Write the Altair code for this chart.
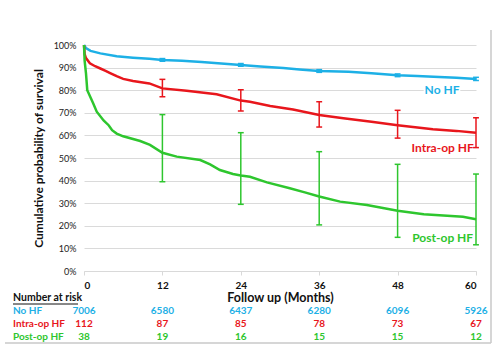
import altair as alt
import pandas as pd

# ---- Kaplan-Meier curves (month, survival %) ----
months_nohf = [0, 0.3, 1, 2.5, 5, 7.5, 10, 12, 15, 18, 21, 24, 27, 30.5, 33, 36, 40.5, 44, 48, 51, 53.5, 57, 60]
surv_nohf = [100, 98.6, 97.4, 96.3, 95.0, 94.4, 93.9, 93.4, 93.0, 92.5, 91.8, 91.2, 90.5, 89.8, 89.2, 88.5, 88.2, 87.5, 86.6, 86.3, 86.0, 85.5, 85.0]

months_intra = [0, 0.1, 0.3, 0.9, 1.7, 2.5, 3.3, 4, 5, 6, 7.5, 10, 12, 15.7, 20.3, 24, 25.4, 28.5, 32, 36, 39.7, 44, 48, 53.4, 57, 60]
surv_intra = [100, 96.0, 94.2, 91.9, 90.6, 89.6, 88.6, 87.6, 86.2, 85.0, 84.1, 83.0, 80.8, 79.8, 78.2, 75.4, 74.9, 73.0, 71.5, 69.0, 67.6, 66.0, 64.5, 62.7, 62.0, 61.2]

months_post = [0, 0.1, 0.3, 0.5, 1.4, 1.95, 3, 3.8, 4.3, 5, 6, 8.6, 10.1, 12, 14.2, 17.8, 19.3, 20.8, 22.8, 24, 25.4, 28, 31.5, 33.8, 36, 39.2, 43.3, 48, 52, 58, 60]
surv_post = [100, 93.0, 87.6, 80.0, 74.2, 70.5, 66.6, 64.4, 62.3, 60.8, 59.6, 57.5, 55.8, 52.3, 50.6, 49.1, 47.2, 44.7, 42.9, 42.3, 41.7, 39.2, 36.6, 34.8, 33.0, 30.7, 29.2, 26.7, 25.1, 24.0, 22.9]

# ---- confidence intervals at yearly points ----
eb_months = [12, 24, 36, 48, 60]
lo_nohf = [92.8, 90.6, 87.9, 86.0, 84.3]
hi_nohf = [94.0, 91.8, 89.1, 87.2, 85.7]
lo_intra = [77.1, 70.8, 63.7, 58.8, 54.6]
hi_intra = [84.8, 80.2, 74.9, 71.1, 67.8]
lo_post = [39.5, 29.5, 20.4, 14.9, 11.6]
hi_post = [69.2, 61.2, 52.8, 47.2, 42.9]

# ---- number at risk ----
risk_months = [0, 12, 24, 36, 48, 60]
risk_nohf = [7006, 6580, 6437, 6280, 6096, 5926]
risk_intra = [112, 87, 85, 78, 73, 67]
risk_post = [38, 19, 16, 15, 15, 12]

groups = ["No HF", "Intra-op HF", "Post-op HF"]
colors = ["#1DB0E6", "#E8161C", "#2EC62E"]
FONT = "Lato"

curves = pd.concat([
    pd.DataFrame({"month": months_nohf, "surv": surv_nohf, "group": "No HF"}),
    pd.DataFrame({"month": months_intra, "surv": surv_intra, "group": "Intra-op HF"}),
    pd.DataFrame({"month": months_post, "surv": surv_post, "group": "Post-op HF"}),
])
errs = pd.concat([
    pd.DataFrame({"month": eb_months, "lo": lo_nohf, "hi": hi_nohf, "group": "No HF"}),
    pd.DataFrame({"month": eb_months, "lo": lo_intra, "hi": hi_intra, "group": "Intra-op HF"}),
    pd.DataFrame({"month": eb_months, "lo": lo_post, "hi": hi_post, "group": "Post-op HF"}),
])

color = alt.Color("group:N", scale=alt.Scale(domain=groups, range=colors), legend=None)
xscale = alt.Scale(domain=[0, 60], nice=False)
yscale = alt.Scale(domain=[0, 100], nice=False)

x_axis = alt.Axis(values=[0, 12, 24, 36, 48, 60], grid=False, labelFontWeight="bold",
                  labelFontSize=10, labelColor="#111", domainColor="#d9d9d9",
                  tickColor="#d9d9d9", tickSize=4, labelPadding=5,
                  title="Follow up (Months)", titleFontSize=12.5, titleFontWeight="bold",
                  titleColor="#111", titlePadding=1, labelFont=FONT, titleFont=FONT)
y_axis = alt.Axis(values=list(range(0, 101, 10)), labelExpr="datum.value + '%'",
                  labelOverlap=False, tickCount=11,
                  grid=True, gridColor="#dadada", domain=False, ticks=False,
                  labelFontSize=9, labelColor="#222", labelPadding=8, labelFont=FONT,
                  title="Cumulative probability of survival", titleFontSize=12,
                  titleFontWeight="bold", titleColor="#111", titlePadding=8, titleFont=FONT)

lines = alt.Chart(curves).mark_line(strokeWidth=2.5).encode(
    x=alt.X("month:Q", scale=xscale, axis=x_axis),
    y=alt.Y("surv:Q", scale=yscale, axis=y_axis),
    color=color,
    detail="group:N",
    order="month:Q",
)

bars = alt.Chart(errs).mark_rule(strokeWidth=1.5).encode(
    x="month:Q", y="lo:Q", y2="hi:Q", color=color)
caps_lo = alt.Chart(errs).transform_calculate(a="datum.month - 0.45", b="datum.month + 0.45").mark_rule(strokeWidth=1.5).encode(
    x="a:Q", x2="b:Q", y="lo:Q", color=color)
caps_hi = alt.Chart(errs).transform_calculate(a="datum.month - 0.45", b="datum.month + 0.45").mark_rule(strokeWidth=1.5).encode(
    x="a:Q", x2="b:Q", y="hi:Q", color=color)

# white box behind "No HF" label to interrupt gridline
label_bg = alt.Chart(pd.DataFrame({"a": [52.0], "b": [57.6], "lo": [77.6], "hi": [82.6]})).mark_rect(color="white").encode(
    x="a:Q", x2="b:Q", y="lo:Q", y2="hi:Q")

label_df = pd.DataFrame({"group": groups, "lx": [54.8, 54.9, 54.9], "ly": [80.0, 54.4, 14.6]})
labels = alt.Chart(label_df).mark_text(fontSize=12, fontWeight="bold", font=FONT).encode(
    x="lx:Q", y="ly:Q", text="group:N", color=color)

# number at risk table
risk_df = pd.concat([
    pd.DataFrame({"month": risk_months, "n": risk_nohf, "group": "No HF"}),
    pd.DataFrame({"month": risk_months, "n": risk_intra, "group": "Intra-op HF"}),
    pd.DataFrame({"month": risk_months, "n": risk_post, "group": "Post-op HF"}),
])
row_y = {"No HF": 266, "Intra-op HF": 279, "Post-op HF": 292}
risk_layers = []
for g in groups:
    sub = risk_df[risk_df.group == g]
    risk_layers.append(alt.Chart(sub).mark_text(fontSize=10, fontWeight="bold", font=FONT).encode(
        x="month:Q", y=alt.value(row_y[g]), text="n:Q", color=color))
    risk_layers.append(alt.Chart(pd.DataFrame({"group": [g]})).mark_text(
        fontSize=10, fontWeight="bold", font=FONT, align="left").encode(
        x=alt.value(-71), y=alt.value(row_y[g]), text="group:N", color=color))

title_df = pd.DataFrame({"t": ["Number at risk"]})
risk_title = alt.Chart(title_df).mark_text(fontSize=10.5, fontWeight="bold", font=FONT,
                                           align="left", color="#111").encode(
    x=alt.value(-71), y=alt.value(253), text="t:N")
underline = alt.Chart(title_df).mark_rule(color="#111", strokeWidth=1).encode(
    x=alt.value(-71), x2=alt.value(-6), y=alt.value(259))

border_v = alt.Chart(title_df).mark_rule(color="#c8c8c8", strokeWidth=1.5).encode(
    x=alt.value(407), y=alt.value(-15), y2=alt.value(298))
border_h = alt.Chart(title_df).mark_rule(color="#c8c8c8", strokeWidth=1.5).encode(
    x=alt.value(-79), x2=alt.value(407), y=alt.value(298))

chart = alt.layer(
    label_bg, lines, bars, caps_lo, caps_hi, labels, *risk_layers,
    risk_title, underline, border_v, border_h
).properties(
    width=392, height=226,
    autosize=alt.AutoSizeParams(type="none"),
    padding={"left": 84, "top": 45, "right": 24, "bottom": 76},
    background="white",
).configure_view(stroke=None)

chart.save("out.html", embed_options={"renderer": "svg", "actions": False})
